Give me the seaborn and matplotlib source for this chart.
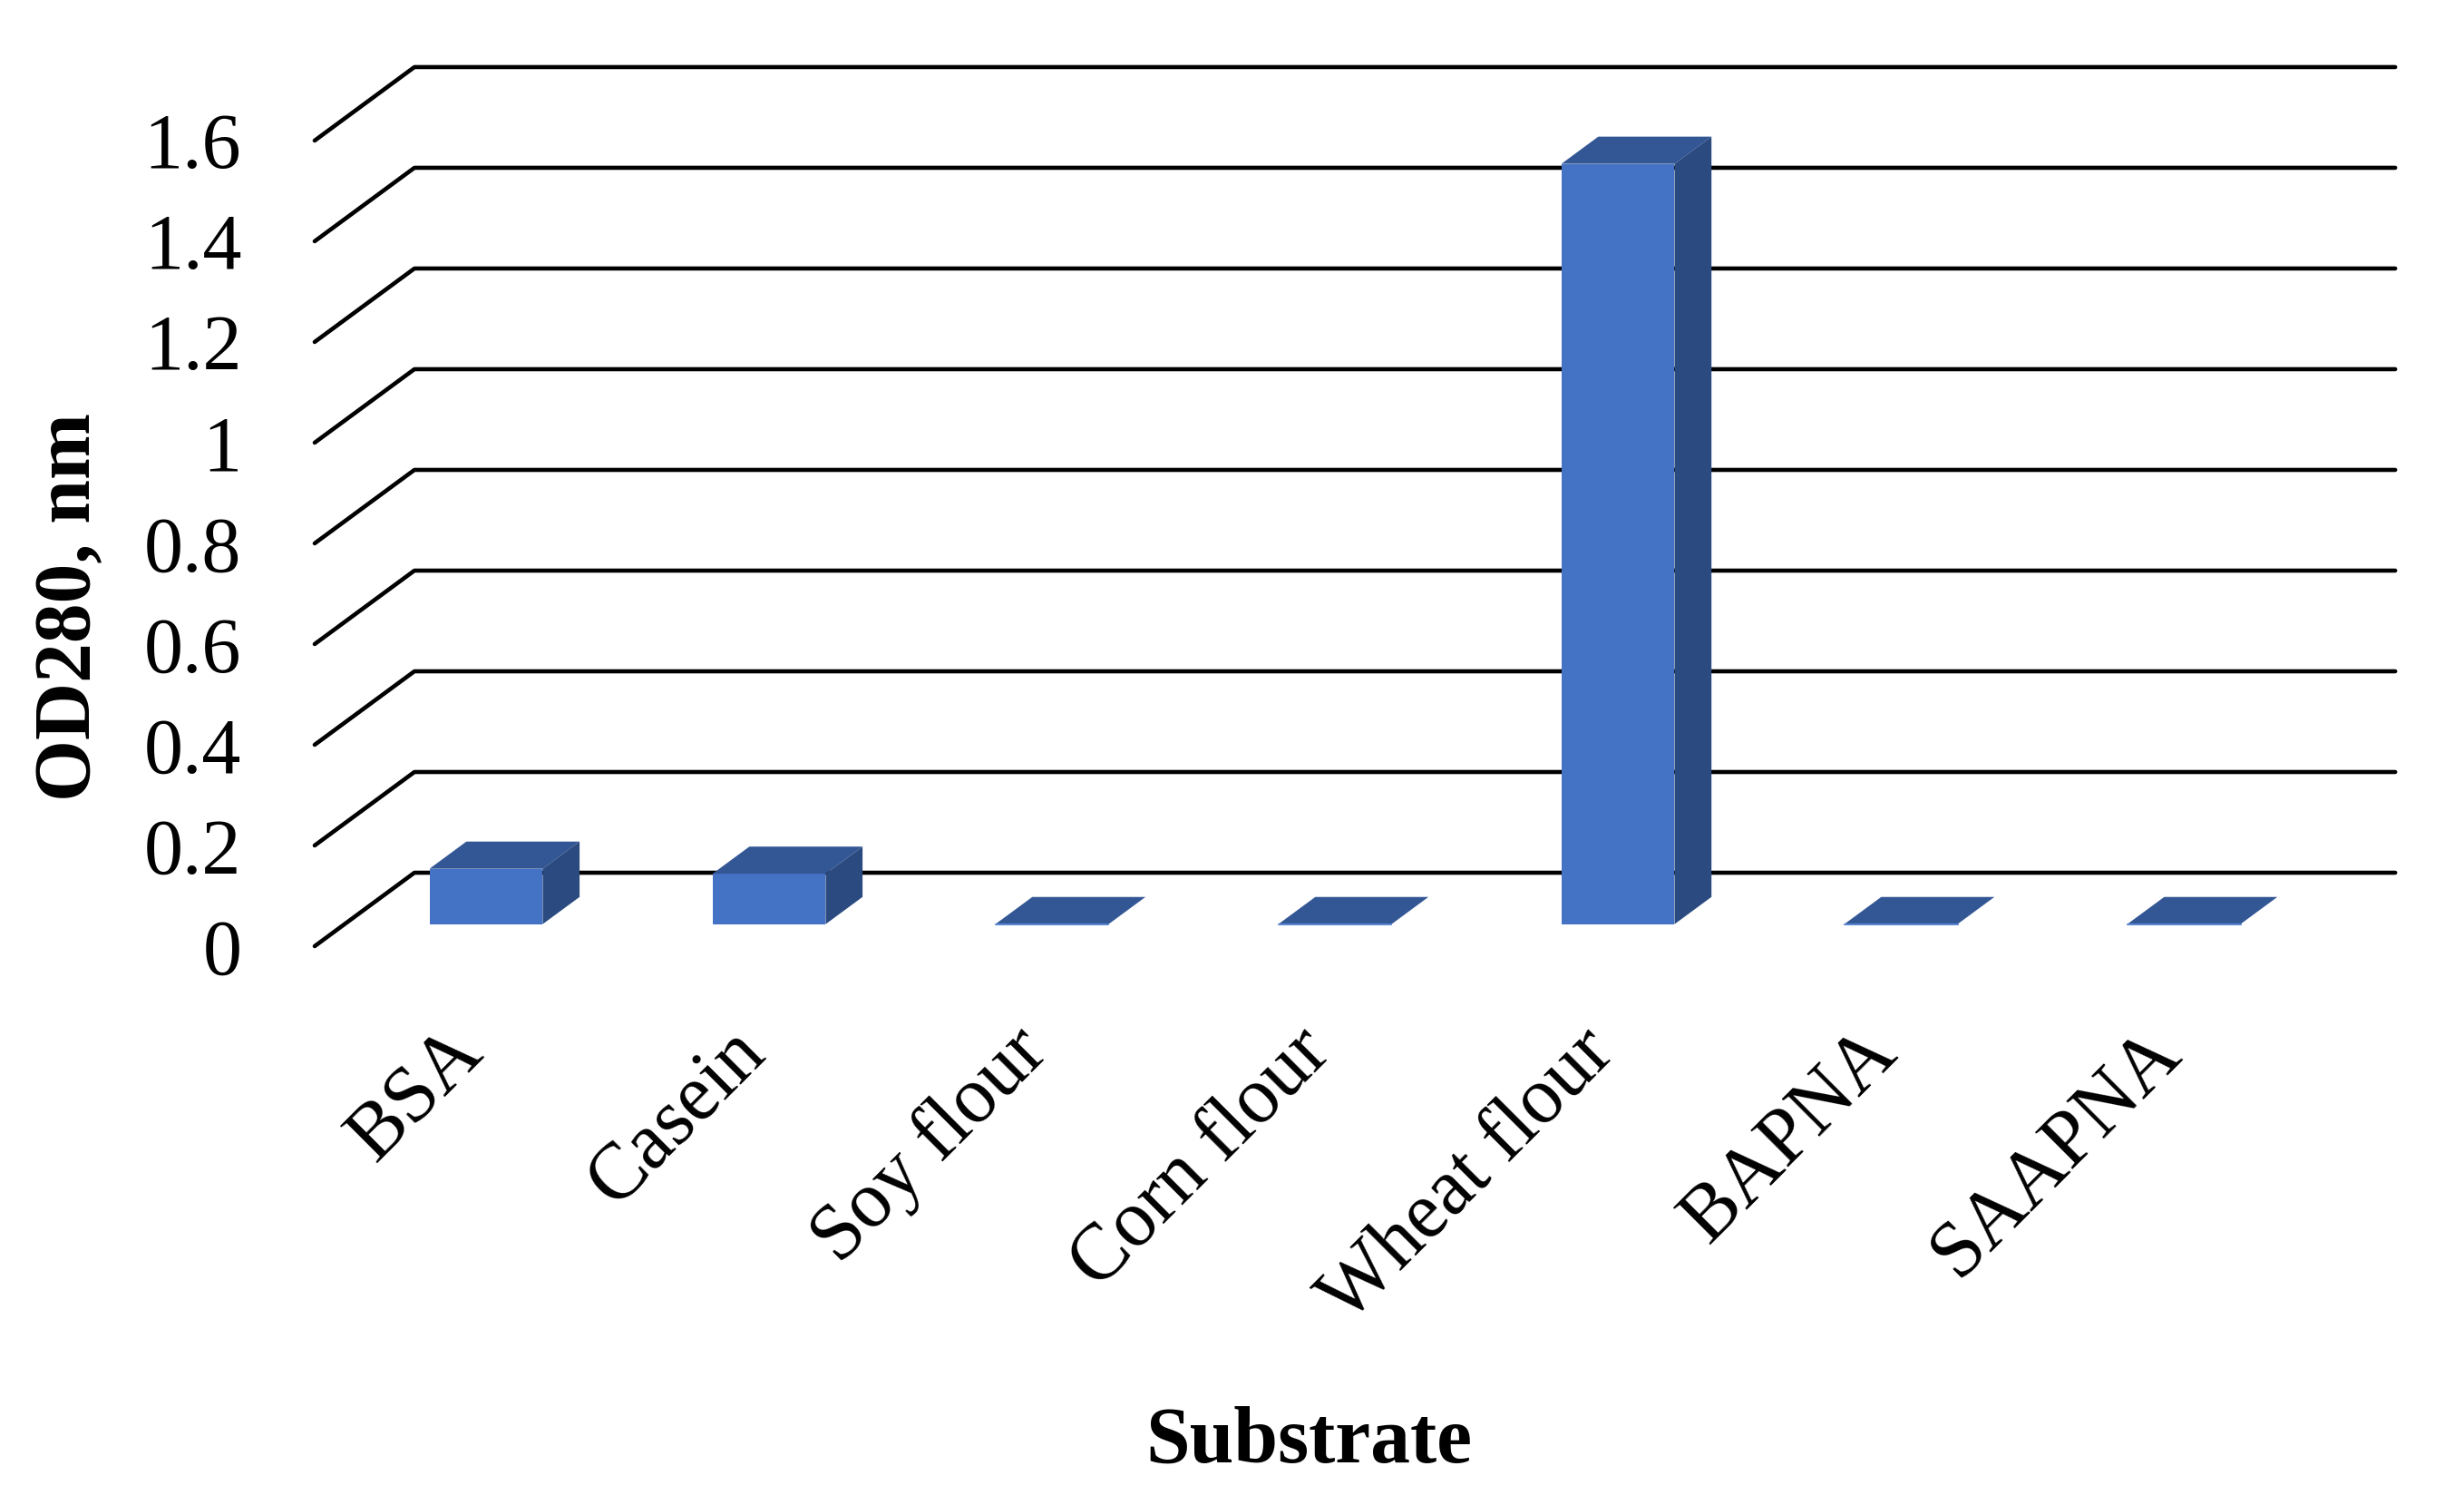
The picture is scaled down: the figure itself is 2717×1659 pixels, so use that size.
import matplotlib
matplotlib.use("Agg")
import numpy as np
import pandas as pd
import matplotlib.pyplot as plt
from matplotlib.patches import Polygon
import seaborn as sns

# data
substrates = ["BSA", "Casein", "Soy flour", "Corn flour", "Wheat flour", "BAPNA", "SAAPNA"]
od280 = [0.11, 0.10, 0.0, 0.0, 1.51, 0.0, 0.0]
y_ticks = [0, 0.2, 0.4, 0.6, 0.8, 1.0, 1.2, 1.4, 1.6]
y_tick_labels = ["0", "0.2", "0.4", "0.6", "0.8", "1", "1.2", "1.4", "1.6"]

df = pd.DataFrame({"Substrate": substrates, "OD280": od280})

sns.set_style("white")
plt.rcParams["font.family"] = ["Liberation Serif", "DejaVu Serif"]
plt.rcParams["text.color"] = "black"
plt.rcParams["axes.labelcolor"] = "black"
plt.rcParams["xtick.color"] = "black"
plt.rcParams["ytick.color"] = "black"

front_col = "#4472C4"
top_col = "#335795"
side_col = "#2A4A80"

fig = plt.figure(figsize=(27.17, 16.59), dpi=100)
ax = fig.add_axes([0.1277, 0.3713, 0.8039, 0.5353])

sns.barplot(data=df, x="Substrate", y="OD280", color=front_col, saturation=1,
            width=0.4, ax=ax, zorder=3)
ax.set_xlim(-0.5, len(substrates) - 0.5)
ax.set_ylim(0, 1.6)

# depth vector (pixels) -> data units
p0 = ax.transData.transform((0, 0))
p1 = ax.transData.transform((1, 1))
ux = 1.0 / (p1[0] - p0[0])
uy = 1.0 / (p1[1] - p0[1])
ddx = 110 * ux
ddy = 81 * uy
f = 0.30   # bar front depth
b = 0.37   # bar depth

# 3d-ish gridlines
for v in y_ticks:
    ax.plot([-0.5, -0.5 + ddx, len(substrates) - 0.5 + ddx], [v, v + ddy, v + ddy],
            color="black", lw=3.3, clip_on=False, zorder=1, solid_capstyle="round")

# bars: shift front, add top and side faces
for p in ax.patches[:len(substrates)]:
    x0, w, h = p.get_x(), p.get_width(), p.get_height()
    xf = x0 + f * ddx
    yb = f * ddy
    yt = yb + h
    p.set_x(xf)
    p.set_y(yb)
    p.set_linewidth(0)
    p.set_clip_on(False)
    top = Polygon([(xf, yt), (xf + w, yt), (xf + w + b * ddx, yt + b * ddy),
                   (xf + b * ddx, yt + b * ddy)], closed=True,
                  facecolor=top_col, edgecolor="none", zorder=3, clip_on=False)
    side = Polygon([(xf + w, yb), (xf + w, yt), (xf + w + b * ddx, yt + b * ddy),
                    (xf + w + b * ddx, yb + b * ddy)], closed=True,
                   facecolor=side_col, edgecolor="none", zorder=3, clip_on=False)
    ax.add_patch(top)
    ax.add_patch(side)
    if h == 0:
        ax.plot([xf, xf + w], [yb, yb], color="#5B86D2", lw=1.5, zorder=4, clip_on=False)

sns.despine(ax=ax, left=True, bottom=True)
ax.grid(False)

ax.set_yticks(y_ticks, y_tick_labels)
ax.tick_params(axis="y", length=0, pad=58, labelsize=62)
ax.set_xticks([i + 0.05 for i in range(len(substrates))], substrates)
ax.tick_params(axis="x", length=0, pad=75, labelsize=63)
for lab in ax.get_xticklabels():
    lab.set_rotation(45)
    lab.set_ha("right")
    lab.set_va("center")
    lab.set_rotation_mode("anchor")

ax.set_xlabel("Substrate", fontsize=63, fontweight="bold")
ax.xaxis.set_label_coords(0.5018, -0.57)
ax.set_ylabel("OD280, nm", fontsize=63, fontweight="bold")
ax.yaxis.set_label_coords(-0.105, 0.421)

fig.savefig("out.png", dpi=100)
